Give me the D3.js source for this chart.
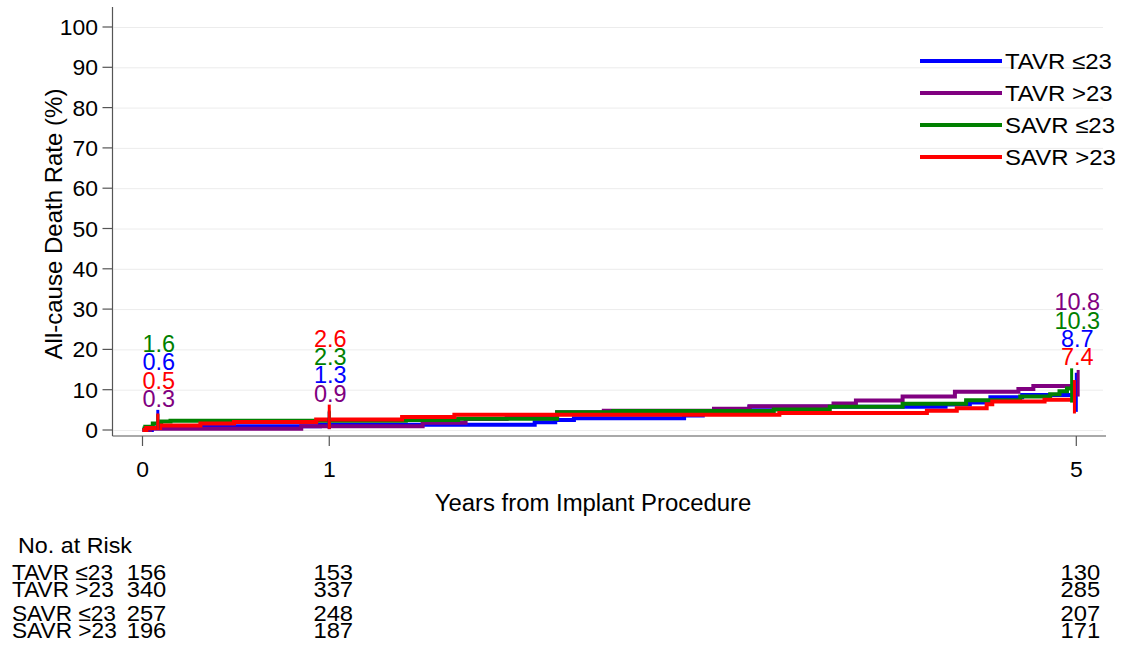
<!DOCTYPE html>
<html>
<head>
<meta charset="utf-8">
<script src="https://cdn.jsdelivr.net/npm/d3@7"></script>
<style>
  html, body { margin: 0; padding: 0; background: #fff; }
  svg { display: block; }
  text { font-family: "Liberation Sans", Arial, Helvetica, sans-serif; }
</style>
</head>
<body>
<svg id="chart" width="1121" height="650"></svg>
<script>
// ---------------- DATA ----------------
const seriesNames = ["TAVR \u226423", "TAVR >23", "SAVR \u226423", "SAVR >23"];
const seriesColors = ["#0000ff", "#800080", "#008000", "#ff0000"];

// Kaplan-Meier step points [years, death rate %]
const tavrSmall = [[0,0],[0.05,0.6],[0.3,0.9],[0.95,1.3],[2.10,1.9],[2.21,2.5],[2.31,2.9],[2.9,3.6],[3.0,4.3],[3.12,5.0],[3.25,5.8],[4.3,6.3],[4.43,6.8],[4.54,8.1],[4.71,8.7]];
const tavrLarge = [[0,0],[0.04,0.3],[0.85,0.9],[1.50,1.8],[1.73,2.7],[1.95,3.5],[2.22,4.4],[2.47,4.8],[3.06,5.3],[3.25,5.9],[3.70,6.6],[3.82,7.3],[4.07,8.3],[4.35,9.5],[4.69,10.2],[4.77,10.9]];
const savrSmall = [[0,0.4],[0.015,0.8],[0.055,1.6],[0.1,2.1],[0.15,2.3],[1.41,2.5],[1.69,2.8],[2.22,4.4],[2.52,4.7],[3.38,5.1],[3.68,5.8],[4.07,6.5],[4.41,7.4],[4.70,8.3],[4.86,8.9],[4.91,9.6],[4.95,10.3]];
const savrLarge = [[0,0],[0.02,0.5],[0.094,1.1],[0.31,1.6],[0.49,2.0],[0.93,2.6],[1.39,3.2],[1.67,3.8],[3.41,4.2],[4.20,4.8],[4.36,5.4],[4.52,6.4],[4.55,7.1],[4.83,7.5]];

// Confidence bars [years, low %, high %]
const tavrSmallCI = [[0.082,0.1,5.0],[1,0.3,4.5],[5.0,4.5,14.2]];
const tavrLargeCI = [[0.082,0.05,1.5],[1,0.2,2.3],[5.01,8.3,14.9]];
const savrSmallCI = [[0.082,0.6,3.9],[1,0.9,4.8],[4.975,6.8,15.3]];
const savrLargeCI = [[0.082,0.0,4.1],[1,0.3,6.3],[4.99,4.1,12.4]];

// Labelled estimates at 30 days, 1 year, 5 years
const labelTimes = [0.082, 1, 5];
const tavrSmallLabels = [0.6, 1.3, 8.7];
const tavrLargeLabels = [0.3, 0.9, 10.8];
const savrSmallLabels = [1.6, 2.3, 10.3];
const savrLargeLabels = [0.5, 2.6, 7.4];

// Number at risk
const riskTimes = [0, 1, 5];
const tavrSmallRisk = [156, 153, 130];
const tavrLargeRisk = [340, 337, 285];
const savrSmallRisk = [257, 248, 207];
const savrLargeRisk = [196, 187, 171];

const xTickValues = [0, 1, 5];
const yTickValues = [0, 10, 20, 30, 40, 50, 60, 70, 80, 90, 100];
const xTitle = "Years from Implant Procedure";
const yTitle = "All-cause Death Rate (%)";
const riskTitle = "No. at Risk";

const series = [
  { name: seriesNames[0], color: seriesColors[0], steps: tavrSmall, ci: tavrSmallCI, labels: tavrSmallLabels, risk: tavrSmallRisk },
  { name: seriesNames[1], color: seriesColors[1], steps: tavrLarge, ci: tavrLargeCI, labels: tavrLargeLabels, risk: tavrLargeRisk },
  { name: seriesNames[2], color: seriesColors[2], steps: savrSmall, ci: savrSmallCI, labels: savrSmallLabels, risk: savrSmallRisk },
  { name: seriesNames[3], color: seriesColors[3], steps: savrLarge, ci: savrLargeCI, labels: savrLargeLabels, risk: savrLargeRisk }
];

// ---------------- LAYOUT ----------------
const svg = d3.select("#chart");
const x = d3.scaleLinear().domain([0, 5]).range([142.5, 1076.3]);
const y = d3.scaleLinear().domain([0, 100]).range([430, 27]);
const plotLeft = 112.5, plotRight = 1106, plotTop = 7, plotBottom = 436;
const axisColor = "#555";

function txt(g, px, py, s, opts) {
  const o = Object.assign({ size: 22, k: 1, anchor: "start", color: "#000", rotate: 0 }, opts || {});
  return g.append("text")
    .attr("transform", `translate(${px},${py}) rotate(${o.rotate}) scale(${o.k},1)`)
    .attr("text-anchor", o.anchor)
    .attr("font-size", o.size)
    .attr("fill", o.color)
    .text(s);
}

// gridlines
svg.append("g").selectAll("line").data(yTickValues).join("line")
  .attr("x1", plotLeft + 1).attr("x2", plotRight - 3)
  .attr("y1", d => y(d) + 0.5).attr("y2", d => y(d) + 0.5)
  .attr("stroke", "#ececec").attr("stroke-width", 1);

// y axis
const yAxisG = svg.append("g");
yAxisG.append("line").attr("x1", plotLeft).attr("x2", plotLeft).attr("y1", plotTop).attr("y2", plotBottom)
  .attr("stroke", axisColor).attr("stroke-width", 1.2);
yTickValues.forEach(v => {
  yAxisG.append("line").attr("x1", plotLeft - 10).attr("x2", plotLeft).attr("y1", y(v)).attr("y2", y(v))
    .attr("stroke", axisColor).attr("stroke-width", 1.2);
  txt(yAxisG, 98, y(v) + 8, String(v), { size: 22.5, anchor: "end", k: 1.02 });
});

// x axis
const xAxisG = svg.append("g");
xAxisG.append("line").attr("x1", plotLeft).attr("x2", plotRight).attr("y1", plotBottom).attr("y2", plotBottom)
  .attr("stroke", axisColor).attr("stroke-width", 1.2);
xTickValues.forEach(v => {
  xAxisG.append("line").attr("x1", x(v)).attr("x2", x(v)).attr("y1", plotBottom).attr("y2", plotBottom + 10)
    .attr("stroke", axisColor).attr("stroke-width", 1.2);
  txt(xAxisG, x(v), 477, String(v), { size: 22.5, anchor: "middle", k: 1.02 });
});

// axis titles
txt(svg, 593, 511, xTitle, { size: 23, anchor: "middle", k: 1.04 });
txt(svg, 62, 224, yTitle, { size: 24, anchor: "middle", rotate: -90 });

// curves
const line = d3.line().x(d => x(d[0])).y(d => y(d[1])).curve(d3.curveStepAfter);
const curveG = svg.append("g");
series.forEach(s => {
  const endT = s.ci[s.ci.length - 1][0];
  const pts = s.steps.concat([[endT, s.steps[s.steps.length - 1][1]]]);
  curveG.append("path").attr("d", line(pts)).attr("fill", "none")
    .attr("stroke", s.color).attr("stroke-width", 4).attr("stroke-linejoin", "miter");
});
// CI bars
series.forEach(s => {
  curveG.selectAll(null).data(s.ci).join("line")
    .attr("x1", d => x(d[0])).attr("x2", d => x(d[0]))
    .attr("y1", d => y(d[1])).attr("y2", d => y(d[2]))
    .attr("stroke", s.color).attr("stroke-width", 3);
});

// estimate labels, stacked in descending order
const labelG = svg.append("g");
labelTimes.forEach((t, i) => {
  const sorted = series.slice().sort((a, b) => a.labels[i] - b.labels[i]);
  const topCI = d3.max(series, s => s.ci[i][2]);
  const base = y(topCI) - 3;
  sorted.forEach((s, j) => {
    txt(labelG, x(t) + 1, base - j * 18.3, s.labels[i].toFixed(1), { size: 23.5, anchor: "middle", color: s.color });
  });
});

// legend
const legendG = svg.append("g");
series.forEach((s, i) => {
  const ly = 61 + i * 32;
  legendG.append("line").attr("x1", 920).attr("x2", 1002).attr("y1", ly).attr("y2", ly)
    .attr("stroke", s.color).attr("stroke-width", 4);
  txt(legendG, 1005, ly + 8, s.name, { size: 22, k: 1.09 });
});

// number at risk table
const riskG = svg.append("g");
txt(riskG, 18, 553, riskTitle, { size: 22, k: 1.06 });
const rowBase = [580, 597, 621, 638];
series.forEach((s, i) => {
  txt(riskG, 12, rowBase[i], s.name, { size: 22, k: 1.03 });
  riskTimes.forEach((t, j) => {
    txt(riskG, x(t) + 4, rowBase[i], String(s.risk[j]), { size: 22, k: 1.08, anchor: "middle" });
  });
});
</script>
</body>
</html>
